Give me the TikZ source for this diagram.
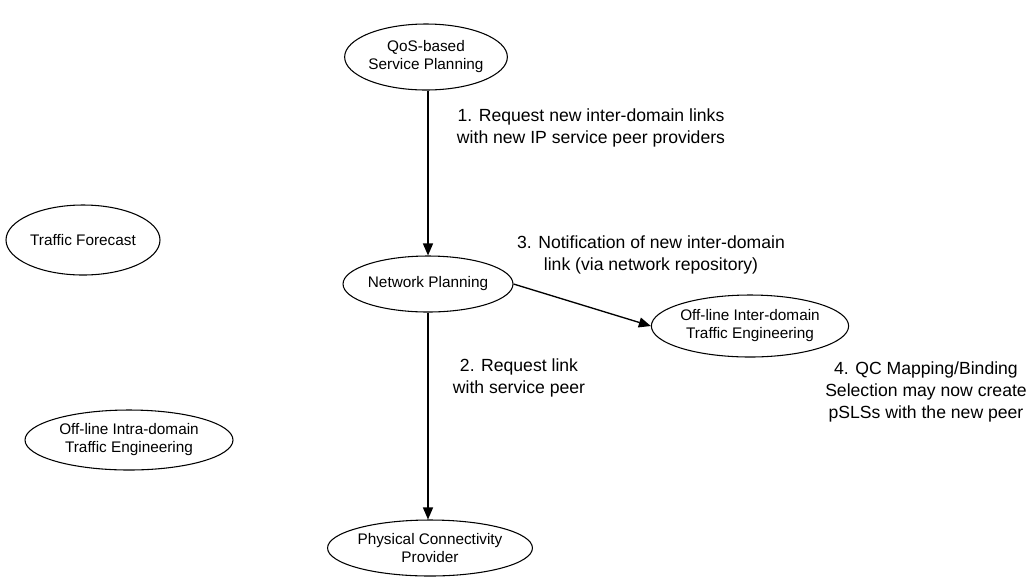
\documentclass[tikz,border=0pt]{standalone}
\usepackage{fontspec}
\setmainfont{Liberation Sans}
\usetikzlibrary{shapes.geometric,arrows.meta}
\begin{document}
\begin{tikzpicture}[x=0.75pt,y=-0.75pt,
  proc/.style={ellipse,draw,line width=0.8pt,inner sep=0pt,align=center,
    font=\fontsize{11.5}{13.5}\selectfont},
  flow/.style={line width=1pt,-{Triangle[length=9pt,width=7.5pt]}},
  note/.style={align=center,font=\fontsize{13.2}{16.8}\selectfont}]
\useasboundingbox (0,0) rectangle (1034,576);

% processes
\node[proc,minimum width=152*0.75pt,minimum height=66*0.75pt] (qos) at (426,57) {QoS-based\\Service Planning};
\node[proc,minimum width=154*0.75pt,minimum height=70*0.75pt] (tf) at (83,240) {Traffic Forecast};
\node[proc,minimum width=154*0.75pt,minimum height=56*0.75pt] (np) at (428,284) {Network Planning};
\node[proc,minimum width=170*0.75pt,minimum height=62*0.75pt] (inter) at (750,326) {Off-line Inter-domain\\Traffic Engineering};
\node[proc,minimum width=208*0.75pt,minimum height=60*0.75pt] (intra) at (129,440) {Off-line Intra-domain\\Traffic Engineering};
\node[proc,minimum width=194*0.75pt,minimum height=56*0.75pt] (phys) at (430,548) {Physical Connectivity\\Provider};

% interactions
\draw[flow] (qos.south -| np.north) -- (np.north);
\draw[flow] (np.south) -- (phys.north -| np.south);
\draw[flow] (np.east) -- (inter.west);

% step descriptions
\node[note] (l1) at (591,128) {1. Request new inter-domain links\\with new IP service peer providers};
\node[note] (l3) at (651,255) {3. Notification of new inter-domain\\link (via network repository)};
\node[note] (l2) at (519,378) {2. Request link\\with service peer};
\node[note] (l4) at (926,392) {4. QC Mapping/Binding\\Selection may now create\\pSLSs with the new peer};
\end{tikzpicture}
\end{document}
